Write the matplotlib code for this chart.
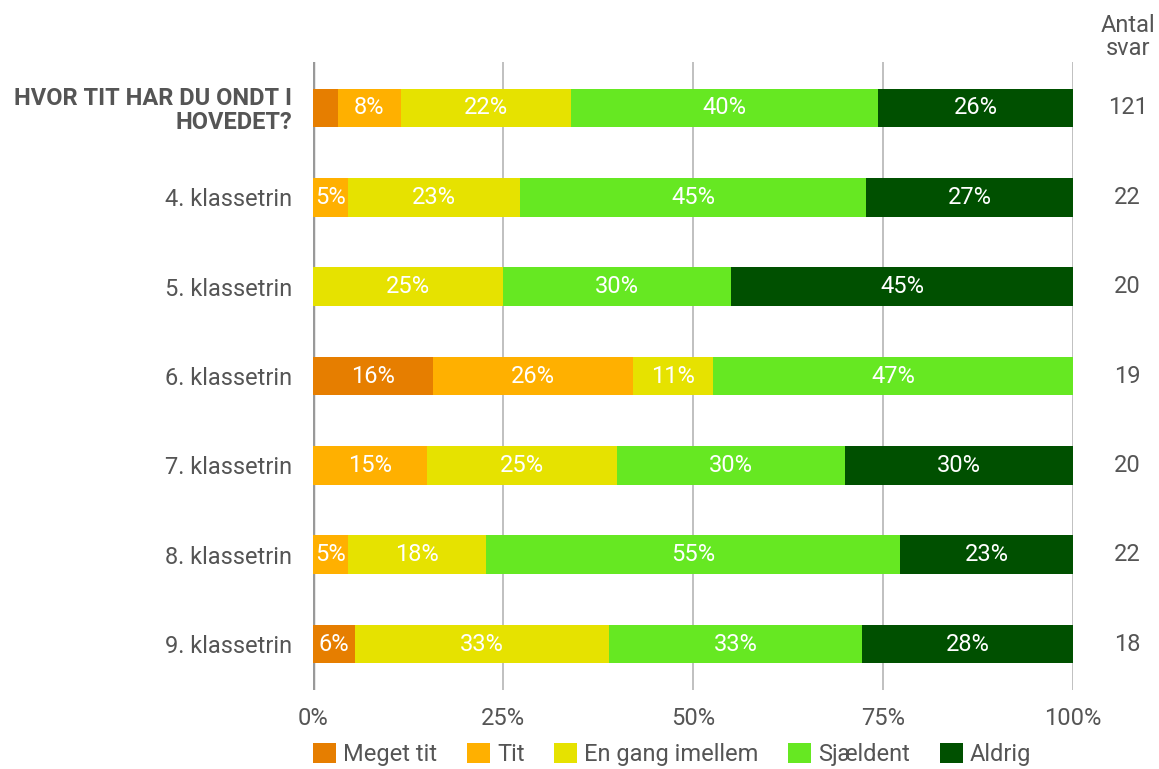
import numpy as np
import matplotlib.pyplot as plt

plt.rcParams['font.family'] = ['Roboto', 'DejaVu Sans']

categories = ["HVOR TIT HAR DU ONDT I\nHOVEDET?", "4. klassetrin", "5. klassetrin",
              "6. klassetrin", "7. klassetrin", "8. klassetrin", "9. klassetrin"]
series = ["Meget tit", "Tit", "En gang imellem", "Sjældent", "Aldrig"]
colors = ["#E67E00", "#FFB000", "#E6E200", "#66E822", "#005000"]

# percentages per series, one value per category
meget_tit = [3.31, 0, 0, 15.79, 0, 0, 5.56]
tit = [8.26, 4.55, 0, 26.32, 15.0, 4.55, 0]
en_gang = [22.31, 22.73, 25.0, 10.53, 25.0, 18.18, 33.33]
sjaeldent = [40.50, 45.45, 30.0, 47.37, 30.0, 54.55, 33.33]
aldrig = [25.62, 27.27, 45.0, 0, 30.0, 22.73, 27.78]
antal_svar = [121, 22, 20, 19, 20, 22, 18]

values = np.array([meget_tit, tit, en_gang, sjaeldent, aldrig])
FS = 17
GREY = "#555555"

fig = plt.figure(figsize=(11.59, 7.69), dpi=100)
ax = fig.add_axes([0.270, 0.1027, 0.656, 0.8167])

y = np.arange(len(categories))
left = np.zeros(len(categories))
for vals, name, col in zip(values, series, colors):
    ax.barh(y, vals, left=left, height=0.43, color=col, label=name, zorder=3)
    for yi, (l, v) in enumerate(zip(left, vals)):
        if v >= 4:
            ax.text(l + v / 2, yi, f"{v:.0f}%", ha="center", va="center",
                    color="white", fontsize=FS, zorder=4)
    left += vals

ax.set_xlim(0, 100)
ax.set_ylim(len(categories) - 0.485, -0.515)
ax.set_xticks([0, 25, 50, 75, 100])
ax.set_xticklabels(["0%", "25%", "50%", "75%", "100%"])
ax.set_yticks(y)
ax.set_yticklabels(categories)
ax.tick_params(axis="both", length=0, labelsize=FS, labelcolor=GREY)
ax.tick_params(axis="x", pad=12)
ax.tick_params(axis="y", pad=15)
lbl = ax.get_yticklabels()[0]
lbl.set_fontweight("bold")
lbl.set_linespacing(1.05)

ax.grid(axis="x", color="#BBBBBB", linewidth=1.3, zorder=0)
ax.axvline(0, color="#999999", linewidth=2.5, zorder=2)
for s in ax.spines.values():
    s.set_visible(False)

# right column with counts
fig.text(0.9735, 0.952, "Antal\nsvar", ha="center", va="center",
         fontsize=FS, color=GREY, linespacing=1.0)
for yi, n in enumerate(antal_svar):
    ax.text(1.0717, yi, str(n), transform=ax.get_yaxis_transform(),
            ha="center", va="center", fontsize=FS, color=GREY)

fig.legend(loc="center left", bbox_to_anchor=(0.270, 0.019), ncol=5,
           frameon=False, fontsize=FS, handlelength=0.98, handleheight=0.98,
           handletextpad=0.3, columnspacing=1.25, labelcolor=GREY,
           borderpad=0, borderaxespad=0)

fig.savefig("out.png", dpi=100)
